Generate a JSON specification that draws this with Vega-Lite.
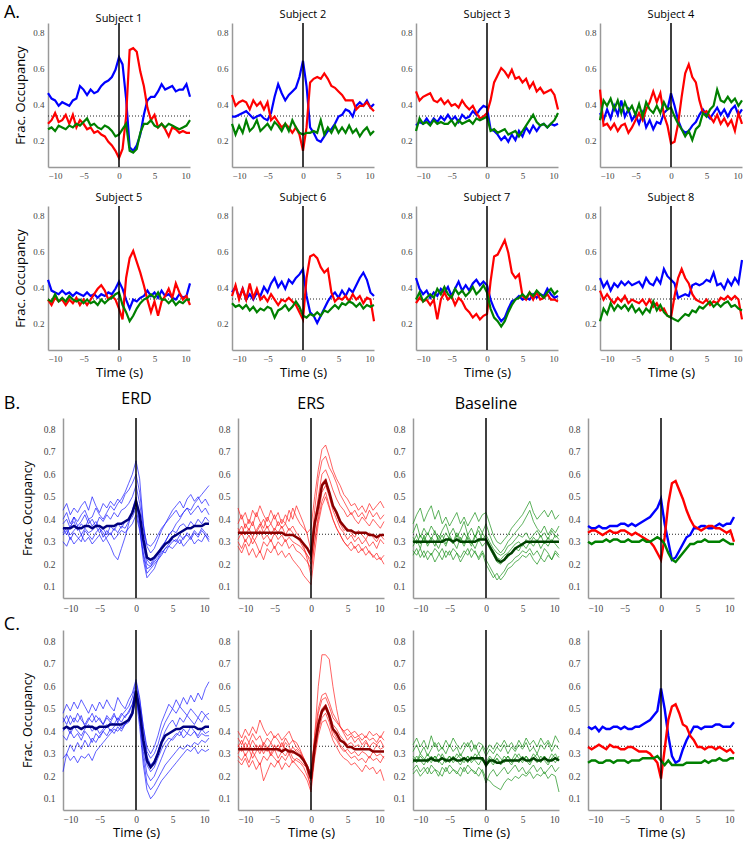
{
"$schema":"https://vega.github.io/schema/vega-lite/v6.json",
"padding":{"left":3,"top":3,"right":0,"bottom":0},
"background":"white",
"config":{
 "view":{"stroke":null},
 "font":"Open Sans",
 "axis":{"domainColor":"#999","domainWidth":1.5,"ticks":false,"grid":false,"labelColor":"#444","labelFont":"Liberation Sans Narrow","labelFontSize":9,"labelPadding":4,"labelOverlap":false,"titleFont":"Open Sans","titleFontWeight":"normal","titleColor":"#000","titleFontSize":13},
 "axisY":{"titlePadding":5,"labelOverlap":false},
 "axisX":{"titlePadding":3,"labelOverlap":false},
 "title":{"font":"Open Sans","fontSize":11,"fontWeight":"normal","offset":2,"color":"#000","frame":"group"}
},
"datasets":{
"s1":[{"t":-10,"b":0.46,"r":0.29,"g":0.26},{"t":-9.5,"b":0.43,"r":0.31,"g":0.27},{"t":-9,"b":0.42,"r":0.35,"g":0.25},{"t":-8.5,"b":0.39,"r":0.30,"g":0.28},{"t":-8,"b":0.41,"r":0.31,"g":0.27},{"t":-7.5,"b":0.40,"r":0.34,"g":0.26},{"t":-7,"b":0.39,"r":0.29,"g":0.28},{"t":-6.5,"b":0.42,"r":0.34,"g":0.27},{"t":-6,"b":0.43,"r":0.27,"g":0.29},{"t":-5.5,"b":0.50,"r":0.31,"g":0.28},{"t":-5,"b":0.48,"r":0.29,"g":0.30},{"t":-4.5,"b":0.45,"r":0.26,"g":0.32},{"t":-4,"b":0.48,"r":0.27,"g":0.28},{"t":-3.5,"b":0.46,"r":0.24,"g":0.29},{"t":-3,"b":0.47,"r":0.25,"g":0.27},{"t":-2.5,"b":0.50,"r":0.23,"g":0.26},{"t":-2,"b":0.52,"r":0.22,"g":0.28},{"t":-1.5,"b":0.53,"r":0.19,"g":0.27},{"t":-1,"b":0.55,"r":0.17,"g":0.25},{"t":-0.5,"b":0.59,"r":0.14,"g":0.22},{"t":0,"b":0.66,"r":0.10,"g":0.23},{"t":0.5,"b":0.62,"r":0.15,"g":0.26},{"t":1,"b":0.43,"r":0.33,"g":0.29},{"t":1.5,"b":0.16,"r":0.70,"g":0.14},{"t":2,"b":0.14,"r":0.71,"g":0.13},{"t":2.5,"b":0.17,"r":0.69,"g":0.15},{"t":3,"b":0.23,"r":0.58,"g":0.24},{"t":3.5,"b":0.34,"r":0.50,"g":0.29},{"t":4,"b":0.42,"r":0.38,"g":0.29},{"t":4.5,"b":0.44,"r":0.31,"g":0.31},{"t":5,"b":0.44,"r":0.34,"g":0.28},{"t":5.5,"b":0.47,"r":0.27,"g":0.27},{"t":6,"b":0.51,"r":0.29,"g":0.29},{"t":6.5,"b":0.48,"r":0.26,"g":0.27},{"t":7,"b":0.49,"r":0.22,"g":0.29},{"t":7.5,"b":0.50,"r":0.27,"g":0.28},{"t":8,"b":0.47,"r":0.26,"g":0.27},{"t":8.5,"b":0.48,"r":0.24,"g":0.26},{"t":9,"b":0.48,"r":0.25,"g":0.27},{"t":9.5,"b":0.51,"r":0.24,"g":0.28},{"t":10,"b":0.44,"r":0.24,"g":0.31}],
"s2":[{"t":-10,"b":0.33,"r":0.45,"g":0.29},{"t":-9.5,"b":0.33,"r":0.39,"g":0.23},{"t":-9,"b":0.34,"r":0.41,"g":0.28},{"t":-8.5,"b":0.35,"r":0.42,"g":0.24},{"t":-8,"b":0.36,"r":0.41,"g":0.31},{"t":-7.5,"b":0.34,"r":0.37,"g":0.25},{"t":-7,"b":0.32,"r":0.42,"g":0.27},{"t":-6.5,"b":0.33,"r":0.39,"g":0.31},{"t":-6,"b":0.34,"r":0.41,"g":0.25},{"t":-5.5,"b":0.32,"r":0.37,"g":0.27},{"t":-5,"b":0.31,"r":0.41,"g":0.29},{"t":-4.5,"b":0.35,"r":0.31,"g":0.26},{"t":-4,"b":0.44,"r":0.33,"g":0.30},{"t":-3.5,"b":0.51,"r":0.30,"g":0.28},{"t":-3,"b":0.46,"r":0.27,"g":0.25},{"t":-2.5,"b":0.42,"r":0.29,"g":0.29},{"t":-2,"b":0.45,"r":0.27,"g":0.25},{"t":-1.5,"b":0.47,"r":0.24,"g":0.31},{"t":-1,"b":0.49,"r":0.27,"g":0.27},{"t":-0.5,"b":0.55,"r":0.23,"g":0.24},{"t":0,"b":0.64,"r":0.14,"g":0.23},{"t":0.5,"b":0.50,"r":0.27,"g":0.24},{"t":1,"b":0.27,"r":0.52,"g":0.24},{"t":1.5,"b":0.24,"r":0.54,"g":0.25},{"t":2,"b":0.20,"r":0.55,"g":0.24},{"t":2.5,"b":0.19,"r":0.54,"g":0.31},{"t":3,"b":0.22,"r":0.57,"g":0.23},{"t":3.5,"b":0.25,"r":0.54,"g":0.27},{"t":4,"b":0.26,"r":0.50,"g":0.24},{"t":4.5,"b":0.29,"r":0.49,"g":0.28},{"t":5,"b":0.33,"r":0.47,"g":0.24},{"t":5.5,"b":0.34,"r":0.45,"g":0.27},{"t":6,"b":0.37,"r":0.42,"g":0.24},{"t":6.5,"b":0.36,"r":0.42,"g":0.28},{"t":7,"b":0.33,"r":0.42,"g":0.24},{"t":7.5,"b":0.39,"r":0.37,"g":0.26},{"t":8,"b":0.41,"r":0.39,"g":0.22},{"t":8.5,"b":0.39,"r":0.39,"g":0.25},{"t":9,"b":0.42,"r":0.41,"g":0.27},{"t":9.5,"b":0.38,"r":0.38,"g":0.23},{"t":10,"b":0.40,"r":0.36,"g":0.25}],
"s3":[{"t":-10,"b":0.28,"r":0.47,"g":0.25},{"t":-9.5,"b":0.30,"r":0.42,"g":0.32},{"t":-9,"b":0.29,"r":0.44,"g":0.29},{"t":-8.5,"b":0.32,"r":0.45,"g":0.30},{"t":-8,"b":0.29,"r":0.46,"g":0.28},{"t":-7.5,"b":0.32,"r":0.42,"g":0.31},{"t":-7,"b":0.30,"r":0.41,"g":0.29},{"t":-6.5,"b":0.33,"r":0.43,"g":0.30},{"t":-6,"b":0.31,"r":0.40,"g":0.29},{"t":-5.5,"b":0.34,"r":0.42,"g":0.29},{"t":-5,"b":0.31,"r":0.39,"g":0.31},{"t":-4.5,"b":0.33,"r":0.40,"g":0.28},{"t":-4,"b":0.30,"r":0.38,"g":0.31},{"t":-3.5,"b":0.34,"r":0.42,"g":0.29},{"t":-3,"b":0.32,"r":0.39,"g":0.30},{"t":-2.5,"b":0.33,"r":0.37,"g":0.31},{"t":-2,"b":0.36,"r":0.39,"g":0.29},{"t":-1.5,"b":0.34,"r":0.35,"g":0.32},{"t":-1,"b":0.37,"r":0.32,"g":0.31},{"t":-0.5,"b":0.39,"r":0.33,"g":0.32},{"t":0,"b":0.38,"r":0.35,"g":0.33},{"t":0.5,"b":0.26,"r":0.42,"g":0.25},{"t":1,"b":0.25,"r":0.52,"g":0.26},{"t":1.5,"b":0.23,"r":0.56,"g":0.24},{"t":2,"b":0.20,"r":0.60,"g":0.25},{"t":2.5,"b":0.22,"r":0.58,"g":0.26},{"t":3,"b":0.19,"r":0.55,"g":0.23},{"t":3.5,"b":0.23,"r":0.59,"g":0.24},{"t":4,"b":0.20,"r":0.54,"g":0.25},{"t":4.5,"b":0.25,"r":0.55,"g":0.22},{"t":5,"b":0.22,"r":0.52,"g":0.25},{"t":5.5,"b":0.27,"r":0.54,"g":0.28},{"t":6,"b":0.24,"r":0.49,"g":0.31},{"t":6.5,"b":0.28,"r":0.52,"g":0.34},{"t":7,"b":0.25,"r":0.47,"g":0.30},{"t":7.5,"b":0.28,"r":0.49,"g":0.28},{"t":8,"b":0.29,"r":0.46,"g":0.29},{"t":8.5,"b":0.27,"r":0.47,"g":0.27},{"t":9,"b":0.29,"r":0.48,"g":0.29},{"t":9.5,"b":0.28,"r":0.45,"g":0.31},{"t":10,"b":0.29,"r":0.37,"g":0.35}],
"s4":[{"t":-10,"b":0.35,"r":0.48,"g":0.31},{"t":-9.5,"b":0.31,"r":0.28,"g":0.42},{"t":-9,"b":0.37,"r":0.29,"g":0.39},{"t":-8.5,"b":0.32,"r":0.26,"g":0.43},{"t":-8,"b":0.39,"r":0.29,"g":0.37},{"t":-7.5,"b":0.34,"r":0.25,"g":0.42},{"t":-7,"b":0.42,"r":0.28,"g":0.35},{"t":-6.5,"b":0.33,"r":0.29,"g":0.41},{"t":-6,"b":0.37,"r":0.24,"g":0.36},{"t":-5.5,"b":0.31,"r":0.27,"g":0.39},{"t":-5,"b":0.34,"r":0.31,"g":0.34},{"t":-4.5,"b":0.29,"r":0.35,"g":0.40},{"t":-4,"b":0.35,"r":0.31,"g":0.33},{"t":-3.5,"b":0.27,"r":0.37,"g":0.41},{"t":-3,"b":0.31,"r":0.41,"g":0.37},{"t":-2.5,"b":0.26,"r":0.47,"g":0.35},{"t":-2,"b":0.30,"r":0.41,"g":0.39},{"t":-1.5,"b":0.29,"r":0.46,"g":0.35},{"t":-1,"b":0.35,"r":0.34,"g":0.41},{"t":-0.5,"b":0.37,"r":0.28,"g":0.37},{"t":0,"b":0.46,"r":0.18,"g":0.38},{"t":0.5,"b":0.39,"r":0.19,"g":0.33},{"t":1,"b":0.31,"r":0.29,"g":0.29},{"t":1.5,"b":0.26,"r":0.44,"g":0.26},{"t":2,"b":0.24,"r":0.57,"g":0.22},{"t":2.5,"b":0.25,"r":0.62,"g":0.25},{"t":3,"b":0.28,"r":0.55,"g":0.20},{"t":3.5,"b":0.30,"r":0.52,"g":0.26},{"t":4,"b":0.34,"r":0.42,"g":0.28},{"t":4.5,"b":0.37,"r":0.35,"g":0.35},{"t":5,"b":0.34,"r":0.36,"g":0.33},{"t":5.5,"b":0.32,"r":0.33,"g":0.37},{"t":6,"b":0.35,"r":0.30,"g":0.39},{"t":6.5,"b":0.38,"r":0.34,"g":0.48},{"t":7,"b":0.34,"r":0.29,"g":0.42},{"t":7.5,"b":0.37,"r":0.32,"g":0.41},{"t":8,"b":0.33,"r":0.28,"g":0.44},{"t":8.5,"b":0.37,"r":0.31,"g":0.41},{"t":9,"b":0.39,"r":0.25,"g":0.43},{"t":9.5,"b":0.34,"r":0.35,"g":0.39},{"t":10,"b":0.37,"r":0.29,"g":0.42}],
"s5":[{"t":-10,"b":0.44,"r":0.33,"g":0.33},{"t":-9.5,"b":0.38,"r":0.30,"g":0.32},{"t":-9,"b":0.37,"r":0.34,"g":0.36},{"t":-8.5,"b":0.36,"r":0.32,"g":0.32},{"t":-8,"b":0.38,"r":0.33,"g":0.34},{"t":-7.5,"b":0.36,"r":0.30,"g":0.32},{"t":-7,"b":0.37,"r":0.33,"g":0.35},{"t":-6.5,"b":0.35,"r":0.31,"g":0.33},{"t":-6,"b":0.37,"r":0.34,"g":0.32},{"t":-5.5,"b":0.36,"r":0.30,"g":0.33},{"t":-5,"b":0.35,"r":0.33,"g":0.31},{"t":-4.5,"b":0.37,"r":0.30,"g":0.33},{"t":-4,"b":0.35,"r":0.33,"g":0.31},{"t":-3.5,"b":0.36,"r":0.36,"g":0.32},{"t":-3,"b":0.34,"r":0.39,"g":0.30},{"t":-2.5,"b":0.36,"r":0.41,"g":0.33},{"t":-2,"b":0.35,"r":0.38,"g":0.31},{"t":-1.5,"b":0.37,"r":0.33,"g":0.33},{"t":-1,"b":0.36,"r":0.35,"g":0.34},{"t":-0.5,"b":0.39,"r":0.33,"g":0.36},{"t":0,"b":0.43,"r":0.28,"g":0.37},{"t":0.5,"b":0.39,"r":0.22,"g":0.30},{"t":1,"b":0.33,"r":0.45,"g":0.26},{"t":1.5,"b":0.28,"r":0.56,"g":0.21},{"t":2,"b":0.33,"r":0.60,"g":0.24},{"t":2.5,"b":0.32,"r":0.54,"g":0.28},{"t":3,"b":0.34,"r":0.48,"g":0.31},{"t":3.5,"b":0.35,"r":0.41,"g":0.33},{"t":4,"b":0.38,"r":0.33,"g":0.34},{"t":4.5,"b":0.35,"r":0.26,"g":0.36},{"t":5,"b":0.37,"r":0.32,"g":0.34},{"t":5.5,"b":0.34,"r":0.24,"g":0.37},{"t":6,"b":0.38,"r":0.32,"g":0.33},{"t":6.5,"b":0.35,"r":0.35,"g":0.33},{"t":7,"b":0.36,"r":0.39,"g":0.31},{"t":7.5,"b":0.34,"r":0.34,"g":0.33},{"t":8,"b":0.33,"r":0.42,"g":0.30},{"t":8.5,"b":0.36,"r":0.37,"g":0.32},{"t":9,"b":0.34,"r":0.33,"g":0.31},{"t":9.5,"b":0.35,"r":0.35,"g":0.33},{"t":10,"b":0.42,"r":0.30,"g":0.33}],
"s6":[{"t":-10,"b":0.37,"r":0.35,"g":0.31},{"t":-9.5,"b":0.40,"r":0.41,"g":0.29},{"t":-9,"b":0.34,"r":0.33,"g":0.30},{"t":-8.5,"b":0.39,"r":0.39,"g":0.28},{"t":-8,"b":0.33,"r":0.33,"g":0.30},{"t":-7.5,"b":0.36,"r":0.42,"g":0.27},{"t":-7,"b":0.33,"r":0.34,"g":0.29},{"t":-6.5,"b":0.37,"r":0.39,"g":0.26},{"t":-6,"b":0.35,"r":0.33,"g":0.28},{"t":-5.5,"b":0.40,"r":0.35,"g":0.27},{"t":-5,"b":0.37,"r":0.32,"g":0.29},{"t":-4.5,"b":0.42,"r":0.36,"g":0.28},{"t":-4,"b":0.45,"r":0.33,"g":0.23},{"t":-3.5,"b":0.40,"r":0.30,"g":0.27},{"t":-3,"b":0.43,"r":0.33,"g":0.28},{"t":-2.5,"b":0.39,"r":0.32,"g":0.30},{"t":-2,"b":0.44,"r":0.34,"g":0.27},{"t":-1.5,"b":0.42,"r":0.32,"g":0.29},{"t":-1,"b":0.45,"r":0.30,"g":0.32},{"t":-0.5,"b":0.47,"r":0.26,"g":0.29},{"t":0,"b":0.50,"r":0.22,"g":0.24},{"t":0.5,"b":0.35,"r":0.45,"g":0.23},{"t":1,"b":0.26,"r":0.57,"g":0.25},{"t":1.5,"b":0.24,"r":0.58,"g":0.24},{"t":2,"b":0.20,"r":0.56,"g":0.26},{"t":2.5,"b":0.24,"r":0.51,"g":0.24},{"t":3,"b":0.28,"r":0.48,"g":0.27},{"t":3.5,"b":0.32,"r":0.50,"g":0.26},{"t":4,"b":0.35,"r":0.37,"g":0.28},{"t":4.5,"b":0.37,"r":0.32,"g":0.30},{"t":5,"b":0.34,"r":0.34,"g":0.28},{"t":5.5,"b":0.38,"r":0.33,"g":0.31},{"t":6,"b":0.35,"r":0.35,"g":0.30},{"t":6.5,"b":0.39,"r":0.32,"g":0.32},{"t":7,"b":0.37,"r":0.36,"g":0.31},{"t":7.5,"b":0.41,"r":0.33,"g":0.29},{"t":8,"b":0.45,"r":0.35,"g":0.31},{"t":8.5,"b":0.48,"r":0.31,"g":0.28},{"t":9,"b":0.44,"r":0.34,"g":0.30},{"t":9.5,"b":0.37,"r":0.33,"g":0.29},{"t":10,"b":0.35,"r":0.21,"g":0.30}],
"s7":[{"t":-10,"b":0.45,"r":0.31,"g":0.33},{"t":-9.5,"b":0.39,"r":0.34,"g":0.37},{"t":-9,"b":0.36,"r":0.32,"g":0.32},{"t":-8.5,"b":0.38,"r":0.33,"g":0.34},{"t":-8,"b":0.34,"r":0.30,"g":0.36},{"t":-7.5,"b":0.37,"r":0.33,"g":0.34},{"t":-7,"b":0.35,"r":0.22,"g":0.39},{"t":-6.5,"b":0.39,"r":0.33,"g":0.36},{"t":-6,"b":0.37,"r":0.37,"g":0.40},{"t":-5.5,"b":0.40,"r":0.33,"g":0.36},{"t":-5,"b":0.35,"r":0.35,"g":0.34},{"t":-4.5,"b":0.39,"r":0.30,"g":0.39},{"t":-4,"b":0.43,"r":0.34,"g":0.36},{"t":-3.5,"b":0.38,"r":0.32,"g":0.38},{"t":-3,"b":0.41,"r":0.28,"g":0.35},{"t":-2.5,"b":0.38,"r":0.26,"g":0.37},{"t":-2,"b":0.42,"r":0.23,"g":0.40},{"t":-1.5,"b":0.44,"r":0.25,"g":0.36},{"t":-1,"b":0.41,"r":0.22,"g":0.38},{"t":-0.5,"b":0.43,"r":0.24,"g":0.41},{"t":0,"b":0.41,"r":0.25,"g":0.37},{"t":0.5,"b":0.33,"r":0.43,"g":0.28},{"t":1,"b":0.28,"r":0.57,"g":0.23},{"t":1.5,"b":0.24,"r":0.58,"g":0.21},{"t":2,"b":0.21,"r":0.62,"g":0.18},{"t":2.5,"b":0.23,"r":0.66,"g":0.21},{"t":3,"b":0.28,"r":0.59,"g":0.26},{"t":3.5,"b":0.32,"r":0.48,"g":0.30},{"t":4,"b":0.33,"r":0.45,"g":0.33},{"t":4.5,"b":0.35,"r":0.47,"g":0.34},{"t":5,"b":0.33,"r":0.35,"g":0.36},{"t":5.5,"b":0.34,"r":0.33,"g":0.34},{"t":6,"b":0.33,"r":0.37,"g":0.37},{"t":6.5,"b":0.36,"r":0.33,"g":0.35},{"t":7,"b":0.34,"r":0.37,"g":0.38},{"t":7.5,"b":0.36,"r":0.33,"g":0.36},{"t":8,"b":0.35,"r":0.34,"g":0.34},{"t":8.5,"b":0.39,"r":0.36,"g":0.37},{"t":9,"b":0.36,"r":0.33,"g":0.39},{"t":9.5,"b":0.34,"r":0.33,"g":0.36},{"t":10,"b":0.35,"r":0.32,"g":0.38}],
"s8":[{"t":-10,"b":0.45,"r":0.38,"g":0.21},{"t":-9.5,"b":0.40,"r":0.33,"g":0.28},{"t":-9,"b":0.43,"r":0.36,"g":0.25},{"t":-8.5,"b":0.38,"r":0.33,"g":0.31},{"t":-8,"b":0.42,"r":0.31,"g":0.27},{"t":-7.5,"b":0.40,"r":0.34,"g":0.30},{"t":-7,"b":0.43,"r":0.32,"g":0.28},{"t":-6.5,"b":0.41,"r":0.35,"g":0.30},{"t":-6,"b":0.43,"r":0.31,"g":0.27},{"t":-5.5,"b":0.41,"r":0.33,"g":0.30},{"t":-5,"b":0.42,"r":0.32,"g":0.26},{"t":-4.5,"b":0.43,"r":0.31,"g":0.28},{"t":-4,"b":0.40,"r":0.33,"g":0.25},{"t":-3.5,"b":0.45,"r":0.30,"g":0.28},{"t":-3,"b":0.42,"r":0.33,"g":0.26},{"t":-2.5,"b":0.41,"r":0.29,"g":0.32},{"t":-2,"b":0.45,"r":0.31,"g":0.27},{"t":-1.5,"b":0.42,"r":0.27,"g":0.30},{"t":-1,"b":0.50,"r":0.28,"g":0.26},{"t":-0.5,"b":0.46,"r":0.24,"g":0.24},{"t":0,"b":0.44,"r":0.23,"g":0.23},{"t":0.5,"b":0.42,"r":0.35,"g":0.22},{"t":1,"b":0.34,"r":0.45,"g":0.21},{"t":1.5,"b":0.35,"r":0.50,"g":0.23},{"t":2,"b":0.36,"r":0.45,"g":0.25},{"t":2.5,"b":0.35,"r":0.42,"g":0.24},{"t":3,"b":0.41,"r":0.36,"g":0.27},{"t":3.5,"b":0.42,"r":0.33,"g":0.26},{"t":4,"b":0.41,"r":0.32,"g":0.29},{"t":4.5,"b":0.42,"r":0.31,"g":0.28},{"t":5,"b":0.44,"r":0.33,"g":0.30},{"t":5.5,"b":0.43,"r":0.30,"g":0.32},{"t":6,"b":0.48,"r":0.32,"g":0.29},{"t":6.5,"b":0.41,"r":0.31,"g":0.31},{"t":7,"b":0.42,"r":0.34,"g":0.29},{"t":7.5,"b":0.39,"r":0.33,"g":0.31},{"t":8,"b":0.44,"r":0.35,"g":0.32},{"t":8.5,"b":0.41,"r":0.33,"g":0.29},{"t":9,"b":0.45,"r":0.35,"g":0.30},{"t":9.5,"b":0.42,"r":0.33,"g":0.28},{"t":10,"b":0.55,"r":0.22,"g":0.27}],
"berd":[{"t":-10,"m":0.36,"a":0.40,"b":0.33,"c":0.30,"d":0.44,"e":0.36,"f":0.38,"g":0.34},{"t":-9.5,"m":0.36,"a":0.43,"b":0.35,"c":0.28,"d":0.47,"e":0.33,"f":0.40,"g":0.36},{"t":-9,"m":0.36,"a":0.38,"b":0.31,"c":0.32,"d":0.42,"e":0.37,"f":0.36,"g":0.33},{"t":-8.5,"m":0.37,"a":0.41,"b":0.34,"c":0.29,"d":0.45,"e":0.39,"f":0.41,"g":0.35},{"t":-8,"m":0.36,"a":0.39,"b":0.32,"c":0.31,"d":0.43,"e":0.35,"f":0.37,"g":0.37},{"t":-7.5,"m":0.36,"a":0.42,"b":0.30,"c":0.33,"d":0.46,"e":0.38,"f":0.39,"g":0.33},{"t":-7,"m":0.37,"a":0.44,"b":0.35,"c":0.30,"d":0.48,"e":0.36,"f":0.42,"g":0.36},{"t":-6.5,"m":0.37,"a":0.40,"b":0.33,"c":0.32,"d":0.44,"e":0.40,"f":0.38,"g":0.34},{"t":-6,"m":0.36,"a":0.41,"b":0.31,"c":0.29,"d":0.50,"e":0.37,"f":0.40,"g":0.35},{"t":-5.5,"m":0.37,"a":0.45,"b":0.34,"c":0.31,"d":0.46,"e":0.39,"f":0.37,"g":0.37},{"t":-5,"m":0.37,"a":0.42,"b":0.36,"c":0.33,"d":0.43,"e":0.36,"f":0.41,"g":0.34},{"t":-4.5,"m":0.36,"a":0.40,"b":0.32,"c":0.30,"d":0.47,"e":0.34,"f":0.39,"g":0.36},{"t":-4,"m":0.37,"a":0.43,"b":0.35,"c":0.32,"d":0.45,"e":0.31,"f":0.42,"g":0.33},{"t":-3.5,"m":0.37,"a":0.46,"b":0.33,"c":0.34,"d":0.48,"e":0.28,"f":0.40,"g":0.37},{"t":-3,"m":0.37,"a":0.44,"b":0.36,"c":0.31,"d":0.46,"e":0.24,"f":0.43,"g":0.35},{"t":-2.5,"m":0.38,"a":0.47,"b":0.34,"c":0.33,"d":0.49,"e":0.22,"f":0.41,"g":0.38},{"t":-2,"m":0.38,"a":0.49,"b":0.37,"c":0.35,"d":0.47,"e":0.27,"f":0.44,"g":0.36},{"t":-1.5,"m":0.39,"a":0.52,"b":0.36,"c":0.34,"d":0.51,"e":0.32,"f":0.45,"g":0.39},{"t":-1,"m":0.40,"a":0.56,"b":0.39,"c":0.36,"d":0.53,"e":0.38,"f":0.47,"g":0.40},{"t":-0.5,"m":0.43,"a":0.60,"b":0.41,"c":0.38,"d":0.56,"e":0.44,"f":0.50,"g":0.43},{"t":0,"m":0.48,"a":0.66,"b":0.45,"c":0.42,"d":0.60,"e":0.50,"f":0.55,"g":0.48},{"t":0.5,"m":0.42,"a":0.58,"b":0.36,"c":0.35,"d":0.52,"e":0.40,"f":0.47,"g":0.38},{"t":1,"m":0.31,"a":0.38,"b":0.22,"c":0.25,"d":0.38,"e":0.28,"f":0.36,"g":0.24},{"t":1.5,"m":0.23,"a":0.22,"b":0.14,"c":0.18,"d":0.28,"e":0.20,"f":0.29,"g":0.16},{"t":2,"m":0.22,"a":0.20,"b":0.16,"c":0.19,"d":0.25,"e":0.19,"f":0.28,"g":0.18},{"t":2.5,"m":0.23,"a":0.23,"b":0.18,"c":0.21,"d":0.27,"e":0.22,"f":0.30,"g":0.20},{"t":3,"m":0.25,"a":0.25,"b":0.22,"c":0.23,"d":0.31,"e":0.24,"f":0.33,"g":0.22},{"t":3.5,"m":0.27,"a":0.28,"b":0.24,"c":0.26,"d":0.35,"e":0.27,"f":0.36,"g":0.25},{"t":4,"m":0.29,"a":0.30,"b":0.27,"c":0.25,"d":0.38,"e":0.30,"f":0.38,"g":0.27},{"t":4.5,"m":0.30,"a":0.33,"b":0.29,"c":0.28,"d":0.41,"e":0.33,"f":0.40,"g":0.28},{"t":5,"m":0.32,"a":0.35,"b":0.31,"c":0.27,"d":0.44,"e":0.35,"f":0.42,"g":0.30},{"t":5.5,"m":0.33,"a":0.38,"b":0.30,"c":0.29,"d":0.46,"e":0.34,"f":0.44,"g":0.31},{"t":6,"m":0.34,"a":0.40,"b":0.33,"c":0.31,"d":0.48,"e":0.37,"f":0.41,"g":0.29},{"t":6.5,"m":0.35,"a":0.43,"b":0.31,"c":0.28,"d":0.45,"e":0.38,"f":0.43,"g":0.32},{"t":7,"m":0.36,"a":0.45,"b":0.34,"c":0.30,"d":0.49,"e":0.36,"f":0.45,"g":0.33},{"t":7.5,"m":0.36,"a":0.44,"b":0.32,"c":0.32,"d":0.51,"e":0.39,"f":0.42,"g":0.31},{"t":8,"m":0.37,"a":0.47,"b":0.35,"c":0.29,"d":0.48,"e":0.37,"f":0.44,"g":0.34},{"t":8.5,"m":0.37,"a":0.49,"b":0.33,"c":0.31,"d":0.50,"e":0.40,"f":0.46,"g":0.32},{"t":9,"m":0.37,"a":0.51,"b":0.36,"c":0.30,"d":0.47,"e":0.38,"f":0.43,"g":0.35},{"t":9.5,"m":0.38,"a":0.53,"b":0.34,"c":0.33,"d":0.49,"e":0.41,"f":0.45,"g":0.33},{"t":10,"m":0.38,"a":0.55,"b":0.32,"c":0.30,"d":0.46,"e":0.39,"f":0.42,"g":0.31}],
"bers":[{"t":-10,"m":0.34,"a":0.45,"b":0.28,"c":0.34,"d":0.30,"e":0.38,"f":0.31,"g":0.36},{"t":-9.5,"m":0.34,"a":0.40,"b":0.25,"c":0.37,"d":0.27,"e":0.42,"f":0.34,"g":0.33},{"t":-9,"m":0.34,"a":0.43,"b":0.29,"c":0.33,"d":0.31,"e":0.36,"f":0.30,"g":0.38},{"t":-8.5,"m":0.34,"a":0.38,"b":0.24,"c":0.36,"d":0.28,"e":0.40,"f":0.33,"g":0.35},{"t":-8,"m":0.34,"a":0.44,"b":0.27,"c":0.32,"d":0.32,"e":0.37,"f":0.29,"g":0.39},{"t":-7.5,"m":0.34,"a":0.41,"b":0.23,"c":0.35,"d":0.29,"e":0.43,"f":0.32,"g":0.34},{"t":-7,"m":0.34,"a":0.46,"b":0.26,"c":0.38,"d":0.25,"e":0.39,"f":0.35,"g":0.37},{"t":-6.5,"m":0.34,"a":0.42,"b":0.22,"c":0.34,"d":0.30,"e":0.36,"f":0.31,"g":0.40},{"t":-6,"m":0.34,"a":0.39,"b":0.27,"c":0.37,"d":0.28,"e":0.41,"f":0.33,"g":0.36},{"t":-5.5,"m":0.34,"a":0.44,"b":0.25,"c":0.33,"d":0.31,"e":0.38,"f":0.30,"g":0.38},{"t":-5,"m":0.34,"a":0.40,"b":0.28,"c":0.36,"d":0.27,"e":0.42,"f":0.34,"g":0.35},{"t":-4.5,"m":0.34,"a":0.43,"b":0.24,"c":0.34,"d":0.30,"e":0.37,"f":0.31,"g":0.39},{"t":-4,"m":0.34,"a":0.38,"b":0.26,"c":0.37,"d":0.28,"e":0.40,"f":0.33,"g":0.36},{"t":-3.5,"m":0.33,"a":0.42,"b":0.23,"c":0.33,"d":0.31,"e":0.38,"f":0.30,"g":0.38},{"t":-3,"m":0.33,"a":0.39,"b":0.25,"c":0.36,"d":0.27,"e":0.44,"f":0.32,"g":0.35},{"t":-2.5,"m":0.33,"a":0.45,"b":0.22,"c":0.34,"d":0.29,"e":0.40,"f":0.30,"g":0.37},{"t":-2,"m":0.32,"a":0.41,"b":0.20,"c":0.32,"d":0.26,"e":0.46,"f":0.29,"g":0.34},{"t":-1.5,"m":0.31,"a":0.38,"b":0.18,"c":0.30,"d":0.25,"e":0.42,"f":0.28,"g":0.32},{"t":-1,"m":0.29,"a":0.36,"b":0.15,"c":0.27,"d":0.23,"e":0.38,"f":0.26,"g":0.28},{"t":-0.5,"m":0.27,"a":0.34,"b":0.13,"c":0.24,"d":0.21,"e":0.33,"f":0.24,"g":0.22},{"t":0,"m":0.24,"a":0.36,"b":0.11,"c":0.20,"d":0.18,"e":0.26,"f":0.22,"g":0.15},{"t":0.5,"m":0.38,"a":0.50,"b":0.25,"c":0.38,"d":0.30,"e":0.44,"f":0.36,"g":0.30},{"t":1,"m":0.46,"a":0.62,"b":0.38,"c":0.50,"d":0.42,"e":0.58,"f":0.46,"g":0.40},{"t":1.5,"m":0.55,"a":0.71,"b":0.46,"c":0.60,"d":0.52,"e":0.66,"f":0.56,"g":0.48},{"t":2,"m":0.57,"a":0.73,"b":0.50,"c":0.62,"d":0.55,"e":0.68,"f":0.58,"g":0.52},{"t":2.5,"m":0.52,"a":0.68,"b":0.45,"c":0.58,"d":0.50,"e":0.63,"f":0.52,"g":0.46},{"t":3,"m":0.46,"a":0.62,"b":0.40,"c":0.53,"d":0.44,"e":0.60,"f":0.46,"g":0.40},{"t":3.5,"m":0.43,"a":0.58,"b":0.36,"c":0.49,"d":0.40,"e":0.56,"f":0.42,"g":0.36},{"t":4,"m":0.39,"a":0.55,"b":0.33,"c":0.46,"d":0.36,"e":0.51,"f":0.38,"g":0.33},{"t":4.5,"m":0.37,"a":0.51,"b":0.30,"c":0.44,"d":0.34,"e":0.48,"f":0.35,"g":0.30},{"t":5,"m":0.35,"a":0.49,"b":0.28,"c":0.41,"d":0.31,"e":0.45,"f":0.36,"g":0.28},{"t":5.5,"m":0.35,"a":0.46,"b":0.30,"c":0.43,"d":0.33,"e":0.42,"f":0.34,"g":0.26},{"t":6,"m":0.34,"a":0.47,"b":0.27,"c":0.40,"d":0.30,"e":0.44,"f":0.32,"g":0.28},{"t":6.5,"m":0.34,"a":0.44,"b":0.29,"c":0.38,"d":0.32,"e":0.41,"f":0.35,"g":0.25},{"t":7,"m":0.34,"a":0.46,"b":0.26,"c":0.41,"d":0.29,"e":0.43,"f":0.33,"g":0.27},{"t":7.5,"m":0.34,"a":0.43,"b":0.28,"c":0.39,"d":0.31,"e":0.40,"f":0.31,"g":0.24},{"t":8,"m":0.33,"a":0.47,"b":0.25,"c":0.37,"d":0.28,"e":0.44,"f":0.34,"g":0.26},{"t":8.5,"m":0.33,"a":0.44,"b":0.24,"c":0.40,"d":0.30,"e":0.41,"f":0.32,"g":0.23},{"t":9,"m":0.32,"a":0.46,"b":0.22,"c":0.38,"d":0.27,"e":0.43,"f":0.30,"g":0.25},{"t":9.5,"m":0.33,"a":0.48,"b":0.23,"c":0.36,"d":0.31,"e":0.40,"f":0.33,"g":0.22},{"t":10,"m":0.33,"a":0.45,"b":0.20,"c":0.39,"d":0.29,"e":0.42,"f":0.31,"g":0.24}],
"bbas":[{"t":-10,"m":0.30,"a":0.34,"b":0.26,"c":0.30,"d":0.38,"e":0.24,"f":0.32,"g":0.28},{"t":-9.5,"m":0.30,"a":0.38,"b":0.24,"c":0.33,"d":0.42,"e":0.27,"f":0.29,"g":0.31},{"t":-9,"m":0.30,"a":0.32,"b":0.27,"c":0.29,"d":0.45,"e":0.23,"f":0.33,"g":0.27},{"t":-8.5,"m":0.30,"a":0.36,"b":0.23,"c":0.32,"d":0.39,"e":0.26,"f":0.30,"g":0.33},{"t":-8,"m":0.30,"a":0.33,"b":0.26,"c":0.28,"d":0.43,"e":0.22,"f":0.34,"g":0.29},{"t":-7.5,"m":0.30,"a":0.37,"b":0.24,"c":0.31,"d":0.46,"e":0.25,"f":0.31,"g":0.32},{"t":-7,"m":0.30,"a":0.34,"b":0.27,"c":0.35,"d":0.40,"e":0.21,"f":0.28,"g":0.30},{"t":-6.5,"m":0.30,"a":0.31,"b":0.25,"c":0.30,"d":0.44,"e":0.24,"f":0.33,"g":0.27},{"t":-6,"m":0.30,"a":0.35,"b":0.22,"c":0.33,"d":0.38,"e":0.27,"f":0.30,"g":0.31},{"t":-5.5,"m":0.31,"a":0.38,"b":0.26,"c":0.29,"d":0.41,"e":0.23,"f":0.34,"g":0.28},{"t":-5,"m":0.31,"a":0.33,"b":0.24,"c":0.32,"d":0.37,"e":0.26,"f":0.31,"g":0.33},{"t":-4.5,"m":0.30,"a":0.36,"b":0.27,"c":0.30,"d":0.40,"e":0.22,"f":0.29,"g":0.30},{"t":-4,"m":0.31,"a":0.32,"b":0.25,"c":0.34,"d":0.43,"e":0.25,"f":0.33,"g":0.27},{"t":-3.5,"m":0.30,"a":0.35,"b":0.23,"c":0.31,"d":0.38,"e":0.21,"f":0.30,"g":0.32},{"t":-3,"m":0.30,"a":0.39,"b":0.26,"c":0.28,"d":0.41,"e":0.24,"f":0.34,"g":0.29},{"t":-2.5,"m":0.30,"a":0.33,"b":0.24,"c":0.32,"d":0.37,"e":0.27,"f":0.31,"g":0.33},{"t":-2,"m":0.30,"a":0.36,"b":0.27,"c":0.29,"d":0.40,"e":0.23,"f":0.28,"g":0.30},{"t":-1.5,"m":0.30,"a":0.32,"b":0.25,"c":0.33,"d":0.43,"e":0.26,"f":0.32,"g":0.27},{"t":-1,"m":0.31,"a":0.37,"b":0.23,"c":0.30,"d":0.39,"e":0.22,"f":0.35,"g":0.31},{"t":-0.5,"m":0.31,"a":0.34,"b":0.26,"c":0.34,"d":0.42,"e":0.25,"f":0.31,"g":0.28},{"t":0,"m":0.31,"a":0.38,"b":0.22,"c":0.31,"d":0.43,"e":0.20,"f":0.33,"g":0.30},{"t":0.5,"m":0.28,"a":0.33,"b":0.19,"c":0.28,"d":0.38,"e":0.17,"f":0.30,"g":0.27},{"t":1,"m":0.25,"a":0.29,"b":0.16,"c":0.26,"d":0.33,"e":0.14,"f":0.27,"g":0.24},{"t":1.5,"m":0.22,"a":0.27,"b":0.13,"c":0.23,"d":0.30,"e":0.16,"f":0.25,"g":0.21},{"t":2,"m":0.21,"a":0.25,"b":0.15,"c":0.22,"d":0.29,"e":0.13,"f":0.24,"g":0.20},{"t":2.5,"m":0.22,"a":0.27,"b":0.17,"c":0.24,"d":0.31,"e":0.15,"f":0.25,"g":0.22},{"t":3,"m":0.24,"a":0.30,"b":0.20,"c":0.25,"d":0.33,"e":0.18,"f":0.28,"g":0.23},{"t":3.5,"m":0.25,"a":0.32,"b":0.21,"c":0.27,"d":0.36,"e":0.19,"f":0.29,"g":0.25},{"t":4,"m":0.27,"a":0.34,"b":0.23,"c":0.29,"d":0.38,"e":0.21,"f":0.31,"g":0.27},{"t":4.5,"m":0.28,"a":0.36,"b":0.24,"c":0.30,"d":0.40,"e":0.22,"f":0.33,"g":0.26},{"t":5,"m":0.29,"a":0.38,"b":0.26,"c":0.28,"d":0.42,"e":0.24,"f":0.32,"g":0.29},{"t":5.5,"m":0.30,"a":0.41,"b":0.25,"c":0.31,"d":0.45,"e":0.23,"f":0.34,"g":0.27},{"t":6,"m":0.30,"a":0.44,"b":0.27,"c":0.29,"d":0.48,"e":0.25,"f":0.31,"g":0.30},{"t":6.5,"m":0.30,"a":0.39,"b":0.24,"c":0.32,"d":0.43,"e":0.22,"f":0.33,"g":0.28},{"t":7,"m":0.30,"a":0.36,"b":0.26,"c":0.30,"d":0.40,"e":0.20,"f":0.35,"g":0.31},{"t":7.5,"m":0.30,"a":0.34,"b":0.23,"c":0.33,"d":0.42,"e":0.23,"f":0.32,"g":0.27},{"t":8,"m":0.30,"a":0.37,"b":0.27,"c":0.29,"d":0.44,"e":0.21,"f":0.34,"g":0.30},{"t":8.5,"m":0.30,"a":0.33,"b":0.25,"c":0.32,"d":0.41,"e":0.24,"f":0.31,"g":0.28},{"t":9,"m":0.30,"a":0.36,"b":0.22,"c":0.30,"d":0.44,"e":0.22,"f":0.35,"g":0.31},{"t":9.5,"m":0.30,"a":0.34,"b":0.26,"c":0.33,"d":0.40,"e":0.25,"f":0.32,"g":0.29},{"t":10,"m":0.30,"a":0.37,"b":0.24,"c":0.31,"d":0.42,"e":0.23,"f":0.33,"g":0.27}],
"bsum":[{"t":-10,"b":0.37,"r":0.34,"g":0.30},{"t":-9.5,"b":0.36,"r":0.35,"g":0.29},{"t":-9,"b":0.36,"r":0.35,"g":0.30},{"t":-8.5,"b":0.37,"r":0.34,"g":0.30},{"t":-8,"b":0.36,"r":0.33,"g":0.30},{"t":-7.5,"b":0.36,"r":0.34,"g":0.31},{"t":-7,"b":0.37,"r":0.35,"g":0.30},{"t":-6.5,"b":0.37,"r":0.34,"g":0.31},{"t":-6,"b":0.37,"r":0.34,"g":0.31},{"t":-5.5,"b":0.38,"r":0.35,"g":0.30},{"t":-5,"b":0.38,"r":0.35,"g":0.30},{"t":-4.5,"b":0.37,"r":0.34,"g":0.31},{"t":-4,"b":0.38,"r":0.33,"g":0.30},{"t":-3.5,"b":0.37,"r":0.34,"g":0.30},{"t":-3,"b":0.38,"r":0.33,"g":0.30},{"t":-2.5,"b":0.39,"r":0.32,"g":0.31},{"t":-2,"b":0.40,"r":0.31,"g":0.30},{"t":-1.5,"b":0.41,"r":0.30,"g":0.30},{"t":-1,"b":0.43,"r":0.28,"g":0.31},{"t":-0.5,"b":0.45,"r":0.25,"g":0.32},{"t":0,"b":0.49,"r":0.22,"g":0.31},{"t":0.5,"b":0.38,"r":0.32,"g":0.29},{"t":1,"b":0.30,"r":0.47,"g":0.25},{"t":1.5,"b":0.22,"r":0.56,"g":0.22},{"t":2,"b":0.23,"r":0.57,"g":0.21},{"t":2.5,"b":0.26,"r":0.53,"g":0.23},{"t":3,"b":0.29,"r":0.49,"g":0.25},{"t":3.5,"b":0.32,"r":0.44,"g":0.27},{"t":4,"b":0.33,"r":0.40,"g":0.29},{"t":4.5,"b":0.36,"r":0.37,"g":0.29},{"t":5,"b":0.36,"r":0.36,"g":0.30},{"t":5.5,"b":0.37,"r":0.35,"g":0.30},{"t":6,"b":0.37,"r":0.36,"g":0.31},{"t":6.5,"b":0.36,"r":0.37,"g":0.30},{"t":7,"b":0.36,"r":0.37,"g":0.30},{"t":7.5,"b":0.37,"r":0.36,"g":0.30},{"t":8,"b":0.38,"r":0.36,"g":0.30},{"t":8.5,"b":0.37,"r":0.35,"g":0.31},{"t":9,"b":0.38,"r":0.34,"g":0.30},{"t":9.5,"b":0.38,"r":0.35,"g":0.29},{"t":10,"b":0.41,"r":0.30,"g":0.29}],
"cerd":[{"t":-10,"m":0.41,"a":0.48,"b":0.28,"c":0.46,"d":0.40,"e":0.22,"f":0.44,"g":0.38},{"t":-9.5,"m":0.42,"a":0.52,"b":0.30,"c":0.43,"d":0.42,"e":0.30,"f":0.47,"g":0.36},{"t":-9,"m":0.41,"a":0.49,"b":0.27,"c":0.47,"d":0.39,"e":0.34,"f":0.43,"g":0.40},{"t":-8.5,"m":0.42,"a":0.53,"b":0.29,"c":0.44,"d":0.42,"e":0.31,"f":0.46,"g":0.37},{"t":-8,"m":0.42,"a":0.50,"b":0.26,"c":0.48,"d":0.40,"e":0.35,"f":0.44,"g":0.39},{"t":-7.5,"m":0.41,"a":0.54,"b":0.29,"c":0.45,"d":0.38,"e":0.32,"f":0.47,"g":0.36},{"t":-7,"m":0.42,"a":0.51,"b":0.28,"c":0.43,"d":0.41,"e":0.36,"f":0.42,"g":0.40},{"t":-6.5,"m":0.42,"a":0.48,"b":0.30,"c":0.46,"d":0.43,"e":0.33,"f":0.45,"g":0.38},{"t":-6,"m":0.42,"a":0.52,"b":0.27,"c":0.44,"d":0.40,"e":0.37,"f":0.48,"g":0.35},{"t":-5.5,"m":0.41,"a":0.49,"b":0.31,"c":0.47,"d":0.42,"e":0.35,"f":0.44,"g":0.39},{"t":-5,"m":0.42,"a":0.53,"b":0.33,"c":0.45,"d":0.39,"e":0.38,"f":0.46,"g":0.37},{"t":-4.5,"m":0.42,"a":0.50,"b":0.35,"c":0.43,"d":0.41,"e":0.40,"f":0.43,"g":0.40},{"t":-4,"m":0.42,"a":0.54,"b":0.37,"c":0.46,"d":0.43,"e":0.42,"f":0.47,"g":0.38},{"t":-3.5,"m":0.43,"a":0.51,"b":0.39,"c":0.44,"d":0.40,"e":0.44,"f":0.45,"g":0.41},{"t":-3,"m":0.43,"a":0.49,"b":0.41,"c":0.47,"d":0.42,"e":0.43,"f":0.48,"g":0.39},{"t":-2.5,"m":0.43,"a":0.55,"b":0.40,"c":0.45,"d":0.44,"e":0.46,"f":0.44,"g":0.42},{"t":-2,"m":0.43,"a":0.52,"b":0.42,"c":0.48,"d":0.41,"e":0.44,"f":0.47,"g":0.40},{"t":-1.5,"m":0.44,"a":0.50,"b":0.43,"c":0.46,"d":0.43,"e":0.47,"f":0.49,"g":0.43},{"t":-1,"m":0.45,"a":0.54,"b":0.45,"c":0.49,"d":0.46,"e":0.48,"f":0.51,"g":0.44},{"t":-0.5,"m":0.48,"a":0.57,"b":0.48,"c":0.52,"d":0.49,"e":0.52,"f":0.55,"g":0.47},{"t":0,"m":0.58,"a":0.63,"b":0.55,"c":0.60,"d":0.57,"e":0.58,"f":0.62,"g":0.55},{"t":0.5,"m":0.49,"a":0.55,"b":0.42,"c":0.51,"d":0.46,"e":0.45,"f":0.54,"g":0.47},{"t":1,"m":0.36,"a":0.42,"b":0.25,"c":0.38,"d":0.31,"e":0.28,"f":0.42,"g":0.34},{"t":1.5,"m":0.27,"a":0.33,"b":0.14,"c":0.29,"d":0.21,"e":0.17,"f":0.31,"g":0.25},{"t":2,"m":0.24,"a":0.30,"b":0.10,"c":0.25,"d":0.18,"e":0.14,"f":0.28,"g":0.22},{"t":2.5,"m":0.26,"a":0.33,"b":0.12,"c":0.27,"d":0.20,"e":0.16,"f":0.30,"g":0.24},{"t":3,"m":0.30,"a":0.38,"b":0.15,"c":0.31,"d":0.24,"e":0.19,"f":0.34,"g":0.28},{"t":3.5,"m":0.35,"a":0.44,"b":0.18,"c":0.36,"d":0.28,"e":0.22,"f":0.40,"g":0.32},{"t":4,"m":0.38,"a":0.48,"b":0.20,"c":0.40,"d":0.32,"e":0.25,"f":0.44,"g":0.35},{"t":4.5,"m":0.39,"a":0.52,"b":0.22,"c":0.43,"d":0.35,"e":0.27,"f":0.47,"g":0.37},{"t":5,"m":0.40,"a":0.50,"b":0.24,"c":0.45,"d":0.37,"e":0.29,"f":0.50,"g":0.36},{"t":5.5,"m":0.41,"a":0.54,"b":0.26,"c":0.42,"d":0.39,"e":0.31,"f":0.48,"g":0.38},{"t":6,"m":0.41,"a":0.51,"b":0.28,"c":0.46,"d":0.38,"e":0.33,"f":0.51,"g":0.40},{"t":6.5,"m":0.42,"a":0.55,"b":0.30,"c":0.44,"d":0.41,"e":0.32,"f":0.49,"g":0.37},{"t":7,"m":0.42,"a":0.52,"b":0.32,"c":0.47,"d":0.39,"e":0.34,"f":0.47,"g":0.39},{"t":7.5,"m":0.42,"a":0.56,"b":0.31,"c":0.45,"d":0.42,"e":0.33,"f":0.50,"g":0.38},{"t":8,"m":0.42,"a":0.53,"b":0.33,"c":0.43,"d":0.40,"e":0.35,"f":0.48,"g":0.40},{"t":8.5,"m":0.41,"a":0.57,"b":0.30,"c":0.46,"d":0.38,"e":0.34,"f":0.46,"g":0.37},{"t":9,"m":0.41,"a":0.54,"b":0.32,"c":0.44,"d":0.41,"e":0.36,"f":0.49,"g":0.39},{"t":9.5,"m":0.42,"a":0.59,"b":0.31,"c":0.47,"d":0.39,"e":0.35,"f":0.47,"g":0.38},{"t":10,"m":0.42,"a":0.62,"b":0.32,"c":0.45,"d":0.40,"e":0.37,"f":0.48,"g":0.38}],
"cers":[{"t":-10,"m":0.32,"a":0.34,"b":0.40,"c":0.27,"d":0.33,"e":0.29,"f":0.37,"g":0.30},{"t":-9.5,"m":0.32,"a":0.31,"b":0.37,"c":0.25,"d":0.36,"e":0.27,"f":0.34,"g":0.33},{"t":-9,"m":0.32,"a":0.35,"b":0.41,"c":0.28,"d":0.32,"e":0.30,"f":0.38,"g":0.29},{"t":-8.5,"m":0.32,"a":0.32,"b":0.38,"c":0.24,"d":0.35,"e":0.26,"f":0.35,"g":0.32},{"t":-8,"m":0.32,"a":0.36,"b":0.42,"c":0.27,"d":0.31,"e":0.31,"f":0.39,"g":0.28},{"t":-7.5,"m":0.32,"a":0.33,"b":0.39,"c":0.23,"d":0.34,"e":0.28,"f":0.36,"g":0.31},{"t":-7,"m":0.32,"a":0.30,"b":0.45,"c":0.26,"d":0.32,"e":0.25,"f":0.38,"g":0.34},{"t":-6.5,"m":0.32,"a":0.34,"b":0.41,"c":0.18,"d":0.35,"e":0.29,"f":0.34,"g":0.30},{"t":-6,"m":0.32,"a":0.31,"b":0.38,"c":0.22,"d":0.33,"e":0.27,"f":0.37,"g":0.33},{"t":-5.5,"m":0.32,"a":0.35,"b":0.40,"c":0.26,"d":0.30,"e":0.30,"f":0.35,"g":0.29},{"t":-5,"m":0.32,"a":0.32,"b":0.37,"c":0.24,"d":0.34,"e":0.28,"f":0.38,"g":0.32},{"t":-4.5,"m":0.32,"a":0.34,"b":0.39,"c":0.27,"d":0.31,"e":0.26,"f":0.36,"g":0.28},{"t":-4,"m":0.31,"a":0.31,"b":0.36,"c":0.23,"d":0.35,"e":0.29,"f":0.33,"g":0.31},{"t":-3.5,"m":0.32,"a":0.35,"b":0.38,"c":0.26,"d":0.32,"e":0.27,"f":0.37,"g":0.29},{"t":-3,"m":0.31,"a":0.33,"b":0.40,"c":0.24,"d":0.30,"e":0.30,"f":0.34,"g":0.32},{"t":-2.5,"m":0.31,"a":0.30,"b":0.36,"c":0.27,"d":0.33,"e":0.26,"f":0.36,"g":0.28},{"t":-2,"m":0.30,"a":0.32,"b":0.35,"c":0.25,"d":0.31,"e":0.28,"f":0.33,"g":0.27},{"t":-1.5,"m":0.29,"a":0.30,"b":0.32,"c":0.23,"d":0.29,"e":0.27,"f":0.31,"g":0.26},{"t":-1,"m":0.27,"a":0.28,"b":0.28,"c":0.21,"d":0.27,"e":0.25,"f":0.28,"g":0.24},{"t":-0.5,"m":0.24,"a":0.25,"b":0.22,"c":0.18,"d":0.24,"e":0.24,"f":0.23,"g":0.20},{"t":0,"m":0.19,"a":0.20,"b":0.14,"c":0.13,"d":0.20,"e":0.22,"f":0.18,"g":0.16},{"t":0.5,"m":0.33,"a":0.38,"b":0.34,"c":0.28,"d":0.35,"e":0.32,"f":0.38,"g":0.30},{"t":1,"m":0.43,"a":0.60,"b":0.48,"c":0.38,"d":0.44,"e":0.42,"f":0.50,"g":0.40},{"t":1.5,"m":0.49,"a":0.74,"b":0.54,"c":0.44,"d":0.50,"e":0.48,"f":0.56,"g":0.46},{"t":2,"m":0.51,"a":0.74,"b":0.55,"c":0.45,"d":0.52,"e":0.50,"f":0.57,"g":0.48},{"t":2.5,"m":0.47,"a":0.72,"b":0.51,"c":0.41,"d":0.48,"e":0.46,"f":0.53,"g":0.44},{"t":3,"m":0.41,"a":0.60,"b":0.46,"c":0.36,"d":0.43,"e":0.40,"f":0.48,"g":0.38},{"t":3.5,"m":0.39,"a":0.50,"b":0.44,"c":0.33,"d":0.41,"e":0.37,"f":0.45,"g":0.36},{"t":4,"m":0.36,"a":0.42,"b":0.42,"c":0.30,"d":0.38,"e":0.34,"f":0.42,"g":0.33},{"t":4.5,"m":0.35,"a":0.39,"b":0.40,"c":0.28,"d":0.36,"e":0.32,"f":0.40,"g":0.31},{"t":5,"m":0.33,"a":0.36,"b":0.41,"c":0.27,"d":0.34,"e":0.30,"f":0.38,"g":0.32},{"t":5.5,"m":0.33,"a":0.38,"b":0.39,"c":0.25,"d":0.35,"e":0.28,"f":0.39,"g":0.30},{"t":6,"m":0.32,"a":0.35,"b":0.40,"c":0.26,"d":0.33,"e":0.29,"f":0.37,"g":0.31},{"t":6.5,"m":0.32,"a":0.37,"b":0.38,"c":0.24,"d":0.34,"e":0.27,"f":0.38,"g":0.29},{"t":7,"m":0.32,"a":0.34,"b":0.39,"c":0.22,"d":0.32,"e":0.28,"f":0.36,"g":0.31},{"t":7.5,"m":0.32,"a":0.36,"b":0.37,"c":0.25,"d":0.35,"e":0.26,"f":0.38,"g":0.30},{"t":8,"m":0.32,"a":0.33,"b":0.40,"c":0.23,"d":0.33,"e":0.29,"f":0.36,"g":0.28},{"t":8.5,"m":0.31,"a":0.35,"b":0.38,"c":0.24,"d":0.31,"e":0.27,"f":0.37,"g":0.31},{"t":9,"m":0.31,"a":0.34,"b":0.39,"c":0.21,"d":0.34,"e":0.28,"f":0.35,"g":0.29},{"t":9.5,"m":0.31,"a":0.36,"b":0.37,"c":0.23,"d":0.32,"e":0.26,"f":0.38,"g":0.30},{"t":10,"m":0.31,"a":0.33,"b":0.40,"c":0.18,"d":0.33,"e":0.29,"f":0.36,"g":0.28}],
"cbas":[{"t":-10,"m":0.27,"a":0.31,"b":0.23,"c":0.28,"d":0.34,"e":0.21,"f":0.26,"g":0.29},{"t":-9.5,"m":0.27,"a":0.34,"b":0.25,"c":0.26,"d":0.37,"e":0.23,"f":0.29,"g":0.27},{"t":-9,"m":0.27,"a":0.30,"b":0.22,"c":0.29,"d":0.33,"e":0.20,"f":0.27,"g":0.30},{"t":-8.5,"m":0.27,"a":0.33,"b":0.24,"c":0.27,"d":0.36,"e":0.22,"f":0.25,"g":0.28},{"t":-8,"m":0.27,"a":0.29,"b":0.21,"c":0.30,"d":0.32,"e":0.24,"f":0.28,"g":0.26},{"t":-7.5,"m":0.28,"a":0.32,"b":0.25,"c":0.27,"d":0.38,"e":0.21,"f":0.26,"g":0.29},{"t":-7,"m":0.27,"a":0.35,"b":0.23,"c":0.29,"d":0.33,"e":0.23,"f":0.29,"g":0.27},{"t":-6.5,"m":0.27,"a":0.31,"b":0.20,"c":0.26,"d":0.35,"e":0.22,"f":0.27,"g":0.30},{"t":-6,"m":0.28,"a":0.33,"b":0.24,"c":0.30,"d":0.32,"e":0.20,"f":0.25,"g":0.28},{"t":-5.5,"m":0.27,"a":0.30,"b":0.22,"c":0.27,"d":0.36,"e":0.24,"f":0.28,"g":0.26},{"t":-5,"m":0.27,"a":0.34,"b":0.25,"c":0.29,"d":0.33,"e":0.21,"f":0.26,"g":0.29},{"t":-4.5,"m":0.28,"a":0.31,"b":0.23,"c":0.26,"d":0.37,"e":0.23,"f":0.29,"g":0.27},{"t":-4,"m":0.27,"a":0.33,"b":0.21,"c":0.28,"d":0.34,"e":0.22,"f":0.27,"g":0.30},{"t":-3.5,"m":0.27,"a":0.29,"b":0.24,"c":0.30,"d":0.32,"e":0.20,"f":0.25,"g":0.28},{"t":-3,"m":0.28,"a":0.32,"b":0.22,"c":0.27,"d":0.35,"e":0.24,"f":0.28,"g":0.26},{"t":-2.5,"m":0.27,"a":0.35,"b":0.25,"c":0.29,"d":0.33,"e":0.21,"f":0.26,"g":0.29},{"t":-2,"m":0.28,"a":0.31,"b":0.23,"c":0.26,"d":0.36,"e":0.23,"f":0.29,"g":0.27},{"t":-1.5,"m":0.28,"a":0.34,"b":0.21,"c":0.28,"d":0.32,"e":0.22,"f":0.27,"g":0.30},{"t":-1,"m":0.28,"a":0.30,"b":0.24,"c":0.30,"d":0.35,"e":0.20,"f":0.25,"g":0.28},{"t":-0.5,"m":0.28,"a":0.33,"b":0.22,"c":0.27,"d":0.34,"e":0.23,"f":0.28,"g":0.27},{"t":0,"m":0.25,"a":0.29,"b":0.17,"c":0.25,"d":0.31,"e":0.19,"f":0.24,"g":0.26},{"t":0.5,"m":0.27,"a":0.32,"b":0.21,"c":0.28,"d":0.34,"e":0.18,"f":0.27,"g":0.29},{"t":1,"m":0.27,"a":0.30,"b":0.23,"c":0.26,"d":0.32,"e":0.16,"f":0.25,"g":0.27},{"t":1.5,"m":0.26,"a":0.33,"b":0.20,"c":0.28,"d":0.35,"e":0.15,"f":0.28,"g":0.30},{"t":2,"m":0.26,"a":0.31,"b":0.22,"c":0.25,"d":0.33,"e":0.14,"f":0.26,"g":0.28},{"t":2.5,"m":0.27,"a":0.34,"b":0.24,"c":0.27,"d":0.36,"e":0.17,"f":0.29,"g":0.26},{"t":3,"m":0.27,"a":0.30,"b":0.21,"c":0.29,"d":0.33,"e":0.19,"f":0.27,"g":0.29},{"t":3.5,"m":0.27,"a":0.33,"b":0.23,"c":0.26,"d":0.35,"e":0.18,"f":0.25,"g":0.27},{"t":4,"m":0.27,"a":0.31,"b":0.25,"c":0.28,"d":0.32,"e":0.20,"f":0.28,"g":0.30},{"t":4.5,"m":0.27,"a":0.34,"b":0.22,"c":0.30,"d":0.36,"e":0.19,"f":0.26,"g":0.28},{"t":5,"m":0.28,"a":0.32,"b":0.24,"c":0.27,"d":0.33,"e":0.21,"f":0.29,"g":0.26},{"t":5.5,"m":0.27,"a":0.35,"b":0.21,"c":0.29,"d":0.37,"e":0.20,"f":0.27,"g":0.29},{"t":6,"m":0.27,"a":0.31,"b":0.23,"c":0.26,"d":0.34,"e":0.22,"f":0.25,"g":0.27},{"t":6.5,"m":0.28,"a":0.33,"b":0.25,"c":0.28,"d":0.36,"e":0.19,"f":0.28,"g":0.30},{"t":7,"m":0.27,"a":0.30,"b":0.22,"c":0.30,"d":0.33,"e":0.21,"f":0.26,"g":0.28},{"t":7.5,"m":0.27,"a":0.34,"b":0.24,"c":0.27,"d":0.37,"e":0.20,"f":0.29,"g":0.26},{"t":8,"m":0.28,"a":0.32,"b":0.21,"c":0.29,"d":0.34,"e":0.22,"f":0.27,"g":0.29},{"t":8.5,"m":0.27,"a":0.35,"b":0.23,"c":0.26,"d":0.36,"e":0.19,"f":0.25,"g":0.27},{"t":9,"m":0.27,"a":0.31,"b":0.25,"c":0.28,"d":0.33,"e":0.21,"f":0.28,"g":0.30},{"t":9.5,"m":0.28,"a":0.34,"b":0.22,"c":0.30,"d":0.38,"e":0.20,"f":0.26,"g":0.28},{"t":10,"m":0.27,"a":0.32,"b":0.24,"c":0.27,"d":0.35,"e":0.13,"f":0.29,"g":0.27}],
"csum":[{"t":-10,"b":0.42,"r":0.33,"g":0.26},{"t":-9.5,"b":0.41,"r":0.32,"g":0.27},{"t":-9,"b":0.42,"r":0.33,"g":0.27},{"t":-8.5,"b":0.40,"r":0.34,"g":0.26},{"t":-8,"b":0.42,"r":0.33,"g":0.26},{"t":-7.5,"b":0.41,"r":0.32,"g":0.27},{"t":-7,"b":0.41,"r":0.34,"g":0.27},{"t":-6.5,"b":0.42,"r":0.33,"g":0.26},{"t":-6,"b":0.42,"r":0.33,"g":0.27},{"t":-5.5,"b":0.41,"r":0.32,"g":0.27},{"t":-5,"b":0.42,"r":0.32,"g":0.27},{"t":-4.5,"b":0.41,"r":0.33,"g":0.26},{"t":-4,"b":0.41,"r":0.33,"g":0.27},{"t":-3.5,"b":0.42,"r":0.32,"g":0.27},{"t":-3,"b":0.42,"r":0.31,"g":0.27},{"t":-2.5,"b":0.43,"r":0.31,"g":0.28},{"t":-2,"b":0.44,"r":0.31,"g":0.28},{"t":-1.5,"b":0.45,"r":0.30,"g":0.28},{"t":-1,"b":0.47,"r":0.28,"g":0.28},{"t":-0.5,"b":0.49,"r":0.26,"g":0.29},{"t":0,"b":0.59,"r":0.19,"g":0.27},{"t":0.5,"b":0.50,"r":0.32,"g":0.25},{"t":1,"b":0.38,"r":0.45,"g":0.27},{"t":1.5,"b":0.29,"r":0.51,"g":0.25},{"t":2,"b":0.26,"r":0.52,"g":0.25},{"t":2.5,"b":0.27,"r":0.48,"g":0.25},{"t":3,"b":0.32,"r":0.43,"g":0.25},{"t":3.5,"b":0.36,"r":0.42,"g":0.26},{"t":4,"b":0.39,"r":0.38,"g":0.26},{"t":4.5,"b":0.42,"r":0.36,"g":0.26},{"t":5,"b":0.42,"r":0.33,"g":0.26},{"t":5.5,"b":0.41,"r":0.33,"g":0.26},{"t":6,"b":0.42,"r":0.32,"g":0.27},{"t":6.5,"b":0.42,"r":0.33,"g":0.26},{"t":7,"b":0.42,"r":0.33,"g":0.27},{"t":7.5,"b":0.43,"r":0.32,"g":0.27},{"t":8,"b":0.43,"r":0.33,"g":0.28},{"t":8.5,"b":0.42,"r":0.32,"g":0.27},{"t":9,"b":0.42,"r":0.31,"g":0.27},{"t":9.5,"b":0.42,"r":0.32,"g":0.28},{"t":10,"b":0.44,"r":0.30,"g":0.28}]
},
"columns":1,
"spacing":11,
"concat":[
{"columns":4,"bounds":"flush","spacing":{"row":39,"column":42},"concat":[
  {"width":142,"height":144,"title":{"text":"Subject 1","offset":-20},"layer":[
   {"data":{"values":[{"v":0.3333}]},"mark":{"type":"rule","strokeDash":[1,2],"color":"#222","strokeWidth":1},"encoding":{"y":{"field":"v","type":"quantitative","title":"Frac. Occupancy"},"x":{"datum":-10,"axis":{"values":[-10,-5,0,5,10],"labelOverlap":false}},"x2":{"datum":10}}},
   {"data":{"name":"s1"},"transform":[{"fold":["b","r","g"],"as":["s","v"]}],"mark":{"type":"line","strokeWidth":2.2},"encoding":{"x":{"field":"t","type":"quantitative","title":null,"scale":{"domain":[-10,10],"nice":false},"axis":{"values":[-10,-5,0,5,10],"labelOverlap":false}},"y":{"field":"v","type":"quantitative","title":"Frac. Occupancy","scale":{"domain":[0.05,0.85],"nice":false,"zero":false},"axis":{"values":[0.2,0.4,0.6,0.8],"format":".1f","labelOverlap":false}},"color":{"field":"s","type":"nominal","scale":{"domain":["b","r","g"],"range":["#0000ff","#ff0000","#008000"]},"legend":null}}},
   {"data":{"values":[{"t":0}]},"mark":{"type":"rule","color":"#000","strokeWidth":1.5},"encoding":{"x":{"field":"t","type":"quantitative","title":null,"axis":{"values":[-10,-5,0,5,10],"labelOverlap":false}}}},
   {"data":{"values":[{"label":"A."}]},"mark":{"type":"text","align":"left","baseline":"alphabetic","fontSize":18,"font":"Open Sans"},"encoding":{"text":{"field":"label"},"x":{"datum":-16.2,"axis":{"values":[-10,-5,0,5,10],"labelOverlap":false}},"y":{"datum":0.878,"axis":{"values":[0.2,0.4,0.6,0.8],"format":".1f","labelOverlap":false}}}}
  ]},
  {"width":142,"height":144,"title":"Subject 2","layer":[
   {"data":{"values":[{"v":0.3333}]},"mark":{"type":"rule","strokeDash":[1,2],"color":"#222","strokeWidth":1},"encoding":{"y":{"field":"v","type":"quantitative","title":null},"x":{"datum":-10,"axis":{"values":[-10,-5,0,5,10],"labelOverlap":false}},"x2":{"datum":10}}},
   {"data":{"name":"s2"},"transform":[{"fold":["b","r","g"],"as":["s","v"]}],"mark":{"type":"line","strokeWidth":2.2},"encoding":{"x":{"field":"t","type":"quantitative","title":null,"scale":{"domain":[-10,10],"nice":false},"axis":{"values":[-10,-5,0,5,10],"labelOverlap":false}},"y":{"field":"v","type":"quantitative","title":null,"scale":{"domain":[0.05,0.85],"nice":false,"zero":false},"axis":{"values":[0.2,0.4,0.6,0.8],"format":".1f","labelOverlap":false}},"color":{"field":"s","type":"nominal","scale":{"domain":["b","r","g"],"range":["#0000ff","#ff0000","#008000"]},"legend":null}}},
   {"data":{"values":[{"t":0}]},"mark":{"type":"rule","color":"#000","strokeWidth":1.5},"encoding":{"x":{"field":"t","type":"quantitative","title":null,"axis":{"values":[-10,-5,0,5,10],"labelOverlap":false}}}}
  ]},
  {"width":142,"height":144,"title":"Subject 3","layer":[
   {"data":{"values":[{"v":0.3333}]},"mark":{"type":"rule","strokeDash":[1,2],"color":"#222","strokeWidth":1},"encoding":{"y":{"field":"v","type":"quantitative","title":null},"x":{"datum":-10,"axis":{"values":[-10,-5,0,5,10],"labelOverlap":false}},"x2":{"datum":10}}},
   {"data":{"name":"s3"},"transform":[{"fold":["b","r","g"],"as":["s","v"]}],"mark":{"type":"line","strokeWidth":2.2},"encoding":{"x":{"field":"t","type":"quantitative","title":null,"scale":{"domain":[-10,10],"nice":false},"axis":{"values":[-10,-5,0,5,10],"labelOverlap":false}},"y":{"field":"v","type":"quantitative","title":null,"scale":{"domain":[0.05,0.85],"nice":false,"zero":false},"axis":{"values":[0.2,0.4,0.6,0.8],"format":".1f","labelOverlap":false}},"color":{"field":"s","type":"nominal","scale":{"domain":["b","r","g"],"range":["#0000ff","#ff0000","#008000"]},"legend":null}}},
   {"data":{"values":[{"t":0}]},"mark":{"type":"rule","color":"#000","strokeWidth":1.5},"encoding":{"x":{"field":"t","type":"quantitative","title":null,"axis":{"values":[-10,-5,0,5,10],"labelOverlap":false}}}}
  ]},
  {"width":142,"height":144,"title":"Subject 4","layer":[
   {"data":{"values":[{"v":0.3333}]},"mark":{"type":"rule","strokeDash":[1,2],"color":"#222","strokeWidth":1},"encoding":{"y":{"field":"v","type":"quantitative","title":null},"x":{"datum":-10,"axis":{"values":[-10,-5,0,5,10],"labelOverlap":false}},"x2":{"datum":10}}},
   {"data":{"name":"s4"},"transform":[{"fold":["b","r","g"],"as":["s","v"]}],"mark":{"type":"line","strokeWidth":2.2},"encoding":{"x":{"field":"t","type":"quantitative","title":null,"scale":{"domain":[-10,10],"nice":false},"axis":{"values":[-10,-5,0,5,10],"labelOverlap":false}},"y":{"field":"v","type":"quantitative","title":null,"scale":{"domain":[0.05,0.85],"nice":false,"zero":false},"axis":{"values":[0.2,0.4,0.6,0.8],"format":".1f","labelOverlap":false}},"color":{"field":"s","type":"nominal","scale":{"domain":["b","r","g"],"range":["#0000ff","#ff0000","#008000"]},"legend":null}}},
   {"data":{"values":[{"t":0}]},"mark":{"type":"rule","color":"#000","strokeWidth":1.5},"encoding":{"x":{"field":"t","type":"quantitative","title":null,"axis":{"values":[-10,-5,0,5,10],"labelOverlap":false}}}}
  ]},
  {"width":142,"height":144,"title":"Subject 5","layer":[
   {"data":{"values":[{"v":0.3333}]},"mark":{"type":"rule","strokeDash":[1,2],"color":"#222","strokeWidth":1},"encoding":{"y":{"field":"v","type":"quantitative","title":"Frac. Occupancy"},"x":{"datum":-10,"axis":{"values":[-10,-5,0,5,10],"labelOverlap":false}},"x2":{"datum":10}}},
   {"data":{"name":"s5"},"transform":[{"fold":["b","r","g"],"as":["s","v"]}],"mark":{"type":"line","strokeWidth":2.2},"encoding":{"x":{"field":"t","type":"quantitative","title":"Time (s)","scale":{"domain":[-10,10],"nice":false},"axis":{"values":[-10,-5,0,5,10],"labelOverlap":false}},"y":{"field":"v","type":"quantitative","title":"Frac. Occupancy","scale":{"domain":[0.05,0.85],"nice":false,"zero":false},"axis":{"values":[0.2,0.4,0.6,0.8],"format":".1f","labelOverlap":false}},"color":{"field":"s","type":"nominal","scale":{"domain":["b","r","g"],"range":["#0000ff","#ff0000","#008000"]},"legend":null}}},
   {"data":{"values":[{"t":0}]},"mark":{"type":"rule","color":"#000","strokeWidth":1.5},"encoding":{"x":{"field":"t","type":"quantitative","title":"Time (s)","axis":{"values":[-10,-5,0,5,10],"labelOverlap":false}}}}
  ]},
  {"width":142,"height":144,"title":"Subject 6","layer":[
   {"data":{"values":[{"v":0.3333}]},"mark":{"type":"rule","strokeDash":[1,2],"color":"#222","strokeWidth":1},"encoding":{"y":{"field":"v","type":"quantitative","title":null},"x":{"datum":-10,"axis":{"values":[-10,-5,0,5,10],"labelOverlap":false}},"x2":{"datum":10}}},
   {"data":{"name":"s6"},"transform":[{"fold":["b","r","g"],"as":["s","v"]}],"mark":{"type":"line","strokeWidth":2.2},"encoding":{"x":{"field":"t","type":"quantitative","title":"Time (s)","scale":{"domain":[-10,10],"nice":false},"axis":{"values":[-10,-5,0,5,10],"labelOverlap":false}},"y":{"field":"v","type":"quantitative","title":null,"scale":{"domain":[0.05,0.85],"nice":false,"zero":false},"axis":{"values":[0.2,0.4,0.6,0.8],"format":".1f","labelOverlap":false}},"color":{"field":"s","type":"nominal","scale":{"domain":["b","r","g"],"range":["#0000ff","#ff0000","#008000"]},"legend":null}}},
   {"data":{"values":[{"t":0}]},"mark":{"type":"rule","color":"#000","strokeWidth":1.5},"encoding":{"x":{"field":"t","type":"quantitative","title":"Time (s)","axis":{"values":[-10,-5,0,5,10],"labelOverlap":false}}}}
  ]},
  {"width":142,"height":144,"title":"Subject 7","layer":[
   {"data":{"values":[{"v":0.3333}]},"mark":{"type":"rule","strokeDash":[1,2],"color":"#222","strokeWidth":1},"encoding":{"y":{"field":"v","type":"quantitative","title":null},"x":{"datum":-10,"axis":{"values":[-10,-5,0,5,10],"labelOverlap":false}},"x2":{"datum":10}}},
   {"data":{"name":"s7"},"transform":[{"fold":["b","r","g"],"as":["s","v"]}],"mark":{"type":"line","strokeWidth":2.2},"encoding":{"x":{"field":"t","type":"quantitative","title":"Time (s)","scale":{"domain":[-10,10],"nice":false},"axis":{"values":[-10,-5,0,5,10],"labelOverlap":false}},"y":{"field":"v","type":"quantitative","title":null,"scale":{"domain":[0.05,0.85],"nice":false,"zero":false},"axis":{"values":[0.2,0.4,0.6,0.8],"format":".1f","labelOverlap":false}},"color":{"field":"s","type":"nominal","scale":{"domain":["b","r","g"],"range":["#0000ff","#ff0000","#008000"]},"legend":null}}},
   {"data":{"values":[{"t":0}]},"mark":{"type":"rule","color":"#000","strokeWidth":1.5},"encoding":{"x":{"field":"t","type":"quantitative","title":"Time (s)","axis":{"values":[-10,-5,0,5,10],"labelOverlap":false}}}}
  ]},
  {"width":142,"height":144,"title":"Subject 8","layer":[
   {"data":{"values":[{"v":0.3333}]},"mark":{"type":"rule","strokeDash":[1,2],"color":"#222","strokeWidth":1},"encoding":{"y":{"field":"v","type":"quantitative","title":null},"x":{"datum":-10,"axis":{"values":[-10,-5,0,5,10],"labelOverlap":false}},"x2":{"datum":10}}},
   {"data":{"name":"s8"},"transform":[{"fold":["b","r","g"],"as":["s","v"]}],"mark":{"type":"line","strokeWidth":2.2},"encoding":{"x":{"field":"t","type":"quantitative","title":"Time (s)","scale":{"domain":[-10,10],"nice":false},"axis":{"values":[-10,-5,0,5,10],"labelOverlap":false}},"y":{"field":"v","type":"quantitative","title":null,"scale":{"domain":[0.05,0.85],"nice":false,"zero":false},"axis":{"values":[0.2,0.4,0.6,0.8],"format":".1f","labelOverlap":false}},"color":{"field":"s","type":"nominal","scale":{"domain":["b","r","g"],"range":["#0000ff","#ff0000","#008000"]},"legend":null}}},
   {"data":{"values":[{"t":0}]},"mark":{"type":"rule","color":"#000","strokeWidth":1.5},"encoding":{"x":{"field":"t","type":"quantitative","title":"Time (s)","axis":{"values":[-10,-5,0,5,10],"labelOverlap":false}}}}
  ]}
]},
{"columns":4,"bounds":"flush","spacing":{"row":32,"column":29},"concat":[
  {"width":161,"height":180,"title":{"text":"ERD","fontSize":16,"offset":-12,"dx":8},"layer":[
   {"data":{"values":[{"v":0.3333}]},"mark":{"type":"rule","strokeDash":[1,2],"color":"#222","strokeWidth":1},"encoding":{"y":{"field":"v","type":"quantitative","title":"Frac. Occupancy","axis":{"values":[0.1,0.2,0.3,0.4,0.5,0.6,0.7,0.8],"format":".1f","labelOverlap":false}},"x":{"datum":-10,"axis":{"values":[-10,-5,0,5,10],"labelOverlap":false}},"x2":{"datum":10}}},
   {"data":{"name":"berd"},"transform":[{"fold":["a","b","c","d","e","f","g"],"as":["s","v"]}],"mark":{"type":"line","strokeWidth":0.7,"color":"#1a1aff"},"encoding":{"x":{"field":"t","type":"quantitative","title":null,"scale":{"domain":[-10,10],"range":[15,161],"nice":false},"axis":{"values":[-10,-5,0,5,10],"labelOverlap":false,"labelPadding":5,"labelFontSize":9.5}},"y":{"field":"v","type":"quantitative","title":"Frac. Occupancy","scale":{"domain":[0.05,0.85],"nice":false,"zero":false},"axis":{"values":[0.1,0.2,0.3,0.4,0.5,0.6,0.7,0.8],"format":".1f","labelOverlap":false,"labelPadding":8,"labelFontSize":9.5,"titleFontSize":12.5,"titlePadding":9,"offset":-15}},"detail":{"field":"s","type":"nominal"}}},
   {"data":{"name":"berd"},"mark":{"type":"line","strokeWidth":2.6,"color":"#000080"},"encoding":{"x":{"field":"t","type":"quantitative","title":null,"axis":{"values":[-10,-5,0,5,10],"labelOverlap":false}},"y":{"field":"m","type":"quantitative","title":"Frac. Occupancy","axis":{"values":[0.1,0.2,0.3,0.4,0.5,0.6,0.7,0.8],"format":".1f","labelOverlap":false}}}},
   {"data":{"values":[{"t":0}]},"mark":{"type":"rule","color":"#000","strokeWidth":1.5},"encoding":{"x":{"field":"t","type":"quantitative","title":null,"axis":{"values":[-10,-5,0,5,10],"labelOverlap":false}}}},
   {"data":{"values":[{"label":"B."}]},"mark":{"type":"text","align":"left","baseline":"alphabetic","fontSize":18,"font":"Open Sans"},"encoding":{"text":{"field":"label"},"x":{"datum":-18.1,"axis":{"values":[-10,-5,0,5,10],"labelOverlap":false}},"y":{"datum":0.89,"axis":{"values":[0.1,0.2,0.3,0.4,0.5,0.6,0.7,0.8],"format":".1f","labelOverlap":false}}}}
  ]},
  {"width":146,"height":180,"title":{"text":"ERS","fontSize":16,"offset":5},"layer":[
   {"data":{"values":[{"v":0.3333}]},"mark":{"type":"rule","strokeDash":[1,2],"color":"#222","strokeWidth":1},"encoding":{"y":{"field":"v","type":"quantitative","title":null,"axis":{"values":[0.1,0.2,0.3,0.4,0.5,0.6,0.7,0.8],"format":".1f","labelOverlap":false}},"x":{"datum":-10,"axis":{"values":[-10,-5,0,5,10],"labelOverlap":false}},"x2":{"datum":10}}},
   {"data":{"name":"bers"},"transform":[{"fold":["a","b","c","d","e","f","g"],"as":["s","v"]}],"mark":{"type":"line","strokeWidth":0.7,"color":"#ff2020"},"encoding":{"x":{"field":"t","type":"quantitative","title":null,"scale":{"domain":[-10,10],"nice":false},"axis":{"values":[-10,-5,0,5,10],"labelOverlap":false,"labelPadding":5,"labelFontSize":9.5}},"y":{"field":"v","type":"quantitative","title":null,"scale":{"domain":[0.05,0.85],"nice":false,"zero":false},"axis":{"values":[0.1,0.2,0.3,0.4,0.5,0.6,0.7,0.8],"format":".1f","labelOverlap":false,"labelPadding":8,"labelFontSize":9.5}},"detail":{"field":"s","type":"nominal"}}},
   {"data":{"name":"bers"},"mark":{"type":"line","strokeWidth":2.6,"color":"#8b0000"},"encoding":{"x":{"field":"t","type":"quantitative","title":null,"axis":{"values":[-10,-5,0,5,10],"labelOverlap":false}},"y":{"field":"m","type":"quantitative","title":null,"axis":{"values":[0.1,0.2,0.3,0.4,0.5,0.6,0.7,0.8],"format":".1f","labelOverlap":false}}}},
   {"data":{"values":[{"t":0}]},"mark":{"type":"rule","color":"#000","strokeWidth":1.5},"encoding":{"x":{"field":"t","type":"quantitative","title":null,"axis":{"values":[-10,-5,0,5,10],"labelOverlap":false}}}}
  ]},
  {"width":146,"height":180,"title":{"text":"Baseline","fontSize":16,"offset":5},"layer":[
   {"data":{"values":[{"v":0.3333}]},"mark":{"type":"rule","strokeDash":[1,2],"color":"#222","strokeWidth":1},"encoding":{"y":{"field":"v","type":"quantitative","title":null,"axis":{"values":[0.1,0.2,0.3,0.4,0.5,0.6,0.7,0.8],"format":".1f","labelOverlap":false}},"x":{"datum":-10,"axis":{"values":[-10,-5,0,5,10],"labelOverlap":false}},"x2":{"datum":10}}},
   {"data":{"name":"bbas"},"transform":[{"fold":["a","b","c","d","e","f","g"],"as":["s","v"]}],"mark":{"type":"line","strokeWidth":0.7,"color":"#1a901a"},"encoding":{"x":{"field":"t","type":"quantitative","title":null,"scale":{"domain":[-10,10],"nice":false},"axis":{"values":[-10,-5,0,5,10],"labelOverlap":false,"labelPadding":5,"labelFontSize":9.5}},"y":{"field":"v","type":"quantitative","title":null,"scale":{"domain":[0.05,0.85],"nice":false,"zero":false},"axis":{"values":[0.1,0.2,0.3,0.4,0.5,0.6,0.7,0.8],"format":".1f","labelOverlap":false,"labelPadding":8,"labelFontSize":9.5}},"detail":{"field":"s","type":"nominal"}}},
   {"data":{"name":"bbas"},"mark":{"type":"line","strokeWidth":2.6,"color":"#004000"},"encoding":{"x":{"field":"t","type":"quantitative","title":null,"axis":{"values":[-10,-5,0,5,10],"labelOverlap":false}},"y":{"field":"m","type":"quantitative","title":null,"axis":{"values":[0.1,0.2,0.3,0.4,0.5,0.6,0.7,0.8],"format":".1f","labelOverlap":false}}}},
   {"data":{"values":[{"t":0}]},"mark":{"type":"rule","color":"#000","strokeWidth":1.5},"encoding":{"x":{"field":"t","type":"quantitative","title":null,"axis":{"values":[-10,-5,0,5,10],"labelOverlap":false}}}}
  ]},
  {"width":146,"height":180,"layer":[
   {"data":{"values":[{"v":0.3333}]},"mark":{"type":"rule","strokeDash":[1,2],"color":"#222","strokeWidth":1},"encoding":{"y":{"field":"v","type":"quantitative","title":null,"axis":{"values":[0.1,0.2,0.3,0.4,0.5,0.6,0.7,0.8],"format":".1f","labelOverlap":false}},"x":{"datum":-10,"axis":{"values":[-10,-5,0,5,10],"labelOverlap":false}},"x2":{"datum":10}}},
   {"data":{"name":"bsum"},"transform":[{"fold":["b","r","g"],"as":["s","v"]}],"mark":{"type":"line","strokeWidth":2.4},"encoding":{"x":{"field":"t","type":"quantitative","title":null,"scale":{"domain":[-10,10],"nice":false},"axis":{"values":[-10,-5,0,5,10],"labelOverlap":false,"labelPadding":5,"labelFontSize":9.5}},"y":{"field":"v","type":"quantitative","title":null,"scale":{"domain":[0.05,0.85],"nice":false,"zero":false},"axis":{"values":[0.1,0.2,0.3,0.4,0.5,0.6,0.7,0.8],"format":".1f","labelOverlap":false,"labelPadding":8,"labelFontSize":9.5}},"color":{"field":"s","type":"nominal","scale":{"domain":["b","r","g"],"range":["#0000ff","#ff0000","#008000"]},"legend":null}}},
   {"data":{"values":[{"t":0}]},"mark":{"type":"rule","color":"#000","strokeWidth":1.5},"encoding":{"x":{"field":"t","type":"quantitative","title":null,"axis":{"values":[-10,-5,0,5,10],"labelOverlap":false}}}}
  ]},
  {"width":161,"height":180,"layer":[
   {"data":{"values":[{"v":0.3333}]},"mark":{"type":"rule","strokeDash":[1,2],"color":"#222","strokeWidth":1},"encoding":{"y":{"field":"v","type":"quantitative","title":"Frac. Occupancy","axis":{"values":[0.1,0.2,0.3,0.4,0.5,0.6,0.7,0.8],"format":".1f","labelOverlap":false}},"x":{"datum":-10,"axis":{"values":[-10,-5,0,5,10],"labelOverlap":false}},"x2":{"datum":10}}},
   {"data":{"name":"cerd"},"transform":[{"fold":["a","b","c","d","e","f","g"],"as":["s","v"]}],"mark":{"type":"line","strokeWidth":0.7,"color":"#1a1aff"},"encoding":{"x":{"field":"t","type":"quantitative","title":"Time (s)","scale":{"domain":[-10,10],"range":[15,161],"nice":false},"axis":{"values":[-10,-5,0,5,10],"labelOverlap":false,"labelPadding":4,"labelFontSize":9.5,"titlePadding":3}},"y":{"field":"v","type":"quantitative","title":"Frac. Occupancy","scale":{"domain":[0.05,0.85],"nice":false,"zero":false},"axis":{"values":[0.1,0.2,0.3,0.4,0.5,0.6,0.7,0.8],"format":".1f","labelOverlap":false,"labelPadding":8,"labelFontSize":9.5,"titleFontSize":12.5,"titlePadding":9,"offset":-15}},"detail":{"field":"s","type":"nominal"}}},
   {"data":{"name":"cerd"},"mark":{"type":"line","strokeWidth":2.6,"color":"#000080"},"encoding":{"x":{"field":"t","type":"quantitative","title":"Time (s)","axis":{"values":[-10,-5,0,5,10],"labelOverlap":false}},"y":{"field":"m","type":"quantitative","title":"Frac. Occupancy","axis":{"values":[0.1,0.2,0.3,0.4,0.5,0.6,0.7,0.8],"format":".1f","labelOverlap":false}}}},
   {"data":{"values":[{"t":0}]},"mark":{"type":"rule","color":"#000","strokeWidth":1.5},"encoding":{"x":{"field":"t","type":"quantitative","title":"Time (s)","axis":{"values":[-10,-5,0,5,10],"labelOverlap":false}}}},
   {"data":{"values":[{"label":"C."}]},"mark":{"type":"text","align":"left","baseline":"alphabetic","fontSize":18,"font":"Open Sans"},"encoding":{"text":{"field":"label"},"x":{"datum":-18.1,"axis":{"values":[-10,-5,0,5,10],"labelOverlap":false}},"y":{"datum":0.85,"axis":{"values":[0.1,0.2,0.3,0.4,0.5,0.6,0.7,0.8],"format":".1f","labelOverlap":false}}}}
  ]},
  {"width":146,"height":180,"layer":[
   {"data":{"values":[{"v":0.3333}]},"mark":{"type":"rule","strokeDash":[1,2],"color":"#222","strokeWidth":1},"encoding":{"y":{"field":"v","type":"quantitative","title":null,"axis":{"values":[0.1,0.2,0.3,0.4,0.5,0.6,0.7,0.8],"format":".1f","labelOverlap":false}},"x":{"datum":-10,"axis":{"values":[-10,-5,0,5,10],"labelOverlap":false}},"x2":{"datum":10}}},
   {"data":{"name":"cers"},"transform":[{"fold":["a","b","c","d","e","f","g"],"as":["s","v"]}],"mark":{"type":"line","strokeWidth":0.7,"color":"#ff2020"},"encoding":{"x":{"field":"t","type":"quantitative","title":"Time (s)","scale":{"domain":[-10,10],"nice":false},"axis":{"values":[-10,-5,0,5,10],"labelOverlap":false,"labelPadding":4,"labelFontSize":9.5,"titlePadding":3}},"y":{"field":"v","type":"quantitative","title":null,"scale":{"domain":[0.05,0.85],"nice":false,"zero":false},"axis":{"values":[0.1,0.2,0.3,0.4,0.5,0.6,0.7,0.8],"format":".1f","labelOverlap":false,"labelPadding":8,"labelFontSize":9.5}},"detail":{"field":"s","type":"nominal"}}},
   {"data":{"name":"cers"},"mark":{"type":"line","strokeWidth":2.6,"color":"#8b0000"},"encoding":{"x":{"field":"t","type":"quantitative","title":"Time (s)","axis":{"values":[-10,-5,0,5,10],"labelOverlap":false}},"y":{"field":"m","type":"quantitative","title":null,"axis":{"values":[0.1,0.2,0.3,0.4,0.5,0.6,0.7,0.8],"format":".1f","labelOverlap":false}}}},
   {"data":{"values":[{"t":0}]},"mark":{"type":"rule","color":"#000","strokeWidth":1.5},"encoding":{"x":{"field":"t","type":"quantitative","title":"Time (s)","axis":{"values":[-10,-5,0,5,10],"labelOverlap":false}}}}
  ]},
  {"width":146,"height":180,"layer":[
   {"data":{"values":[{"v":0.3333}]},"mark":{"type":"rule","strokeDash":[1,2],"color":"#222","strokeWidth":1},"encoding":{"y":{"field":"v","type":"quantitative","title":null,"axis":{"values":[0.1,0.2,0.3,0.4,0.5,0.6,0.7,0.8],"format":".1f","labelOverlap":false}},"x":{"datum":-10,"axis":{"values":[-10,-5,0,5,10],"labelOverlap":false}},"x2":{"datum":10}}},
   {"data":{"name":"cbas"},"transform":[{"fold":["a","b","c","d","e","f","g"],"as":["s","v"]}],"mark":{"type":"line","strokeWidth":0.7,"color":"#1a901a"},"encoding":{"x":{"field":"t","type":"quantitative","title":"Time (s)","scale":{"domain":[-10,10],"nice":false},"axis":{"values":[-10,-5,0,5,10],"labelOverlap":false,"labelPadding":4,"labelFontSize":9.5,"titlePadding":3}},"y":{"field":"v","type":"quantitative","title":null,"scale":{"domain":[0.05,0.85],"nice":false,"zero":false},"axis":{"values":[0.1,0.2,0.3,0.4,0.5,0.6,0.7,0.8],"format":".1f","labelOverlap":false,"labelPadding":8,"labelFontSize":9.5}},"detail":{"field":"s","type":"nominal"}}},
   {"data":{"name":"cbas"},"mark":{"type":"line","strokeWidth":2.6,"color":"#004000"},"encoding":{"x":{"field":"t","type":"quantitative","title":"Time (s)","axis":{"values":[-10,-5,0,5,10],"labelOverlap":false}},"y":{"field":"m","type":"quantitative","title":null,"axis":{"values":[0.1,0.2,0.3,0.4,0.5,0.6,0.7,0.8],"format":".1f","labelOverlap":false}}}},
   {"data":{"values":[{"t":0}]},"mark":{"type":"rule","color":"#000","strokeWidth":1.5},"encoding":{"x":{"field":"t","type":"quantitative","title":"Time (s)","axis":{"values":[-10,-5,0,5,10],"labelOverlap":false}}}}
  ]},
  {"width":146,"height":180,"layer":[
   {"data":{"values":[{"v":0.3333}]},"mark":{"type":"rule","strokeDash":[1,2],"color":"#222","strokeWidth":1},"encoding":{"y":{"field":"v","type":"quantitative","title":null,"axis":{"values":[0.1,0.2,0.3,0.4,0.5,0.6,0.7,0.8],"format":".1f","labelOverlap":false}},"x":{"datum":-10,"axis":{"values":[-10,-5,0,5,10],"labelOverlap":false}},"x2":{"datum":10}}},
   {"data":{"name":"csum"},"transform":[{"fold":["b","r","g"],"as":["s","v"]}],"mark":{"type":"line","strokeWidth":2.4},"encoding":{"x":{"field":"t","type":"quantitative","title":"Time (s)","scale":{"domain":[-10,10],"nice":false},"axis":{"values":[-10,-5,0,5,10],"labelOverlap":false,"labelPadding":4,"labelFontSize":9.5,"titlePadding":3}},"y":{"field":"v","type":"quantitative","title":null,"scale":{"domain":[0.05,0.85],"nice":false,"zero":false},"axis":{"values":[0.1,0.2,0.3,0.4,0.5,0.6,0.7,0.8],"format":".1f","labelOverlap":false,"labelPadding":8,"labelFontSize":9.5}},"color":{"field":"s","type":"nominal","scale":{"domain":["b","r","g"],"range":["#0000ff","#ff0000","#008000"]},"legend":null}}},
   {"data":{"values":[{"t":0}]},"mark":{"type":"rule","color":"#000","strokeWidth":1.5},"encoding":{"x":{"field":"t","type":"quantitative","title":"Time (s)","axis":{"values":[-10,-5,0,5,10],"labelOverlap":false}}}}
  ]}
]}
]
}
